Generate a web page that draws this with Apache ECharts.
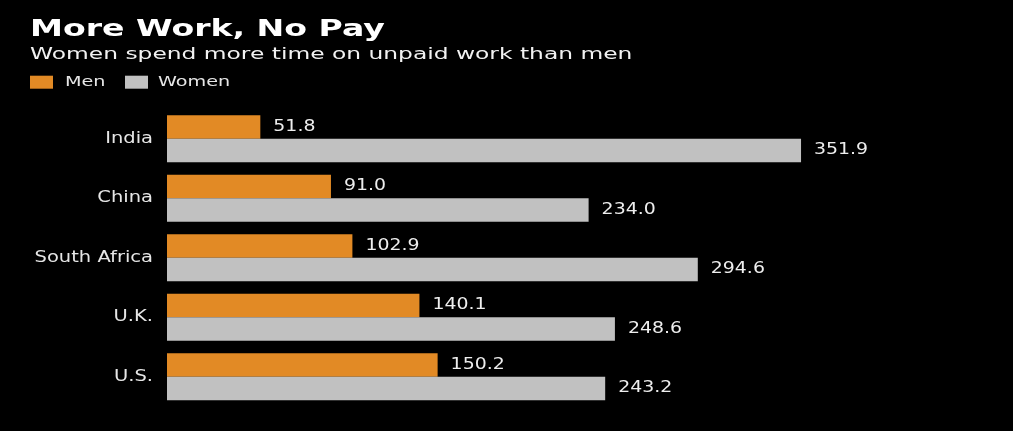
<!DOCTYPE html>
<html><head><meta charset="utf-8">
<script src="https://cdn.jsdelivr.net/npm/echarts@6/dist/echarts.min.js"></script>
<style>html,body{margin:0;padding:0;background:#000}#c{width:1013px;height:431px}</style>
</head><body><div id="c"></div>
<script>
const categories = ['India', 'China', 'South Africa', 'U.K.', 'U.S.'];
const men = [51.8, 91.0, 102.9, 140.1, 150.2];
const women = [351.9, 234.0, 294.6, 248.6, 243.2];
const titleText = 'More Work, No Pay';
const subtitleText = 'Women spend more time on unpaid work than men';
const legendNames = ['Men', 'Women'];

const FONT = '"DejaVu Sans"';
const ORANGE = '#e28a25';
const GREY = '#c1c1c1';
const CAT_GAP = 0.21;

const chart = echarts.init(document.getElementById('c'), null, {renderer: 'canvas'});

function txt(text, x, y, size, sx, fill, weight) {
  return {
    type: 'text', x: x, y: y, scaleX: sx, silent: true,
    style: {text: text, fill: fill, fontFamily: FONT, fontSize: size,
      fontWeight: weight || 'normal', align: 'left', verticalAlign: 'middle'}
  };
}

chart.setOption({
  backgroundColor: '#000',
  animation: false,
  graphic: [
    txt(titleText, 30, 30, 23, 1.44, '#ffffff', 'bold'),
    txt(subtitleText, 30, 55, 16, 1.46, '#f2f2f2'),
    {type: 'rect', shape: {x: 30, y: 75.7, width: 23, height: 13}, style: {fill: ORANGE}, silent: true},
    txt(legendNames[0], 65, 82.8, 14, 1.37, '#e6e6e6'),
    {type: 'rect', shape: {x: 125, y: 75.7, width: 23, height: 13}, style: {fill: GREY}, silent: true},
    txt(legendNames[1], 158, 82.8, 14, 1.37, '#e6e6e6')
  ],
  grid: {left: 167, top: 109, height: 297.5, width: 720.7},
  xAxis: {type: 'value', min: 0, max: 400, show: false},
  yAxis: {
    type: 'category', data: categories, inverse: true,
    axisLine: {show: false}, axisTick: {show: false}, axisLabel: {show: false}
  },
  series: [
    {name: 'Men', type: 'bar', data: men, itemStyle: {color: ORANGE},
     barGap: '0%', barCategoryGap: (CAT_GAP * 100) + '%'},
    {name: 'Women', type: 'bar', data: women, itemStyle: {color: GREY},
     barGap: '0%', barCategoryGap: (CAT_GAP * 100) + '%'},
    {
      name: 'labels', type: 'custom', silent: true, z: 10,
      encode: {x: 0, y: 1},
      data: categories.map((c, i) => [men[i], i, women[i]]),
      renderItem: function (params, api) {
        const i = api.value(1);
        const band = api.size([0, 1])[1];
        const bw = band * (1 - CAT_GAP) / 2;
        const p0 = api.coord([0, i]);
        const pm = api.coord([api.value(0), i]);
        const pw = api.coord([api.value(2), i]);
        const valStyle = (t) => ({text: t, fill: '#eeeeee', fontFamily: FONT, fontSize: 15,
          align: 'left', verticalAlign: 'middle'});
        return {
          type: 'group',
          children: [
            {type: 'text', x: p0[0] - 14, y: p0[1], scaleX: 1.3,
             style: {text: categories[params.dataIndex], fill: '#e6e6e6', fontFamily: FONT, fontSize: 15,
               align: 'right', verticalAlign: 'middle'}},
            {type: 'text', x: pm[0] + 13, y: pm[1] - bw / 2, scaleX: 1.26,
             style: valStyle(api.value(0).toFixed(1))},
            {type: 'text', x: pw[0] + 13, y: pw[1] + bw / 2, scaleX: 1.26,
             style: valStyle(api.value(2).toFixed(1))}
          ]
        };
      }
    }
  ]
});
</script></body></html>
